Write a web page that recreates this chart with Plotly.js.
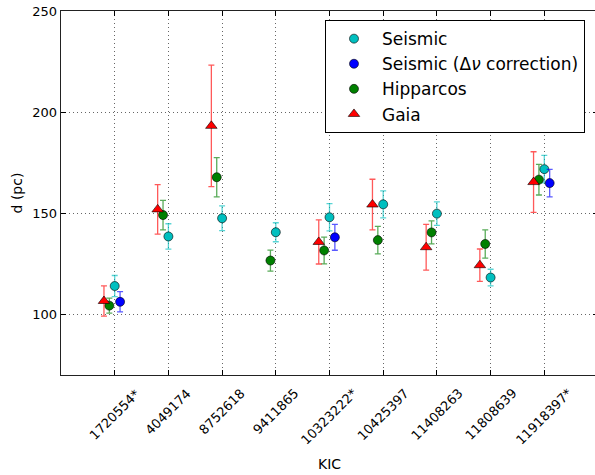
<!DOCTYPE html>
<html>
<head>
<meta charset="utf-8">
<script src="https://cdn.plot.ly/plotly-3.0.1.min.js"></script>
<style>
html, body { margin: 0; padding: 0; overflow: hidden; background: #fff; }
#chart { width: 598px; height: 475px; }
</style>
</head>
<body>
<div id="chart"></div>
<script>
// Categories (KIC identifiers)
const kic = ["1720554*", "4049174", "8752618", "9411865", "10323222*", "10425397", "11408263", "11808639", "11918397*"];
const yTicks = [100, 150, 200, 250];

// Distances (pc) and 1-sigma errors
const seismic      = [114.0, 138.5, 147.5, 140.6, 148.0, 154.4, 149.8, 118.2, 171.8];
const seismicErr   = [5.2, 6.3, 6.1, 4.7, 6.7, 6.7, 5.8, 4.1, 6.8];
const seismicDnu   = [106.2, null, null, null, 138.1, null, null, null, 164.9];
const seismicDnuErr= [5.0, null, null, null, 6.4, null, null, null, 6.8];
const hipparcos    = [104.3, 149.1, 167.8, 126.6, 131.6, 136.7, 140.5, 134.8, 166.6];
const hipparcosErr = [3.7, 7.3, 9.7, 5.2, 6.6, 6.8, 5.7, 7.0, 7.6];
const gaia         = [106.6, 151.9, 193.2, null, 135.8, 154.3, 133.2, 124.3, 165.4];
const gaiaErr      = [7.5, 12.2, 30.0, null, 10.9, 12.5, 11.3, 8.0, 15.0];

const idx = kic.map((_, i) => i);
const shift = (d) => idx.map(i => i + d);

function series(name, xs, ys, errs, color, barColor, symbol) {
  return {
    type: 'scatter', mode: 'markers', name: name,
    x: xs, y: ys,
    error_y: { type: 'data', array: errs, visible: true, color: barColor, thickness: 1.3, width: 3 },
    marker: { color: color, size: symbol === 'circle' ? 9 : 10, symbol: symbol,
              line: { color: '#000', width: 0.6 } }
  };
}

const data = [
  series('Seismic', shift(0), seismic, seismicErr, '#00bfbf', 'rgba(0,191,191,0.65)', 'circle'),
  series('Seismic (Δ<i>ν</i> correction)', shift(0.1), seismicDnu, seismicDnuErr, '#0000ff', 'rgba(0,0,255,0.65)', 'circle'),
  series('Hipparcos', shift(-0.1), hipparcos, hipparcosErr, '#008000', 'rgba(0,128,0,0.65)', 'circle'),
  series('Gaia', shift(-0.2), gaia, gaiaErr, '#ff0000', 'rgba(255,0,0,0.65)', 'triangle-up')
];

const tickFont = { family: 'DejaVu Sans', size: 13, color: '#000' };

const axisCommon = {
  showline: true, linecolor: '#222', linewidth: 1.3, mirror: 'ticks',
  ticks: 'inside', ticklen: 5, tickcolor: '#000',
  showgrid: true, gridcolor: '#666', griddash: '1px,3px', gridwidth: 1,
  zeroline: false,
  tickfont: tickFont
};

// rotated category labels centred under their ticks (matplotlib-style)
const labelAnnotations = kic.map((t, i) => ({
  x: i, xref: 'x', y: -0.022, yref: 'paper',
  text: t, showarrow: false, textangle: -45,
  xanchor: 'center', yanchor: 'top', font: tickFont
}));

const layout = {
  width: 598, height: 475,
  margin: { l: 61, r: 0, t: 11, b: 100 },
  paper_bgcolor: '#fff', plot_bgcolor: '#fff',
  font: { family: 'DejaVu Sans', color: '#000' },
  showlegend: true,
  legend: {
    x: 0.4916, y: 0.975, xanchor: 'left', yanchor: 'top',
    bgcolor: '#fff', bordercolor: '#000', borderwidth: 1,
    font: { family: 'DejaVu Sans', size: 17, color: '#000' },
    itemwidth: 46, tracegroupgap: 0
  },
  annotations: labelAnnotations,
  xaxis: Object.assign({}, axisCommon, {
    range: [-1, 9],
    tickmode: 'array', tickvals: idx, showticklabels: false,
    title: { text: 'KIC', font: { family: 'DejaVu Sans', size: 14, color: '#000' }, standoff: 84 }
  }),
  yaxis: Object.assign({}, axisCommon, {
    range: [70, 250],
    tickmode: 'array', tickvals: yTicks,
    title: { text: 'd (pc)', font: { family: 'DejaVu Sans', size: 14, color: '#000' }, standoff: 6 }
  })
};

Plotly.newPlot('chart', data, layout, { displayModeBar: false, staticPlot: true });
</script>
</body>
</html>
